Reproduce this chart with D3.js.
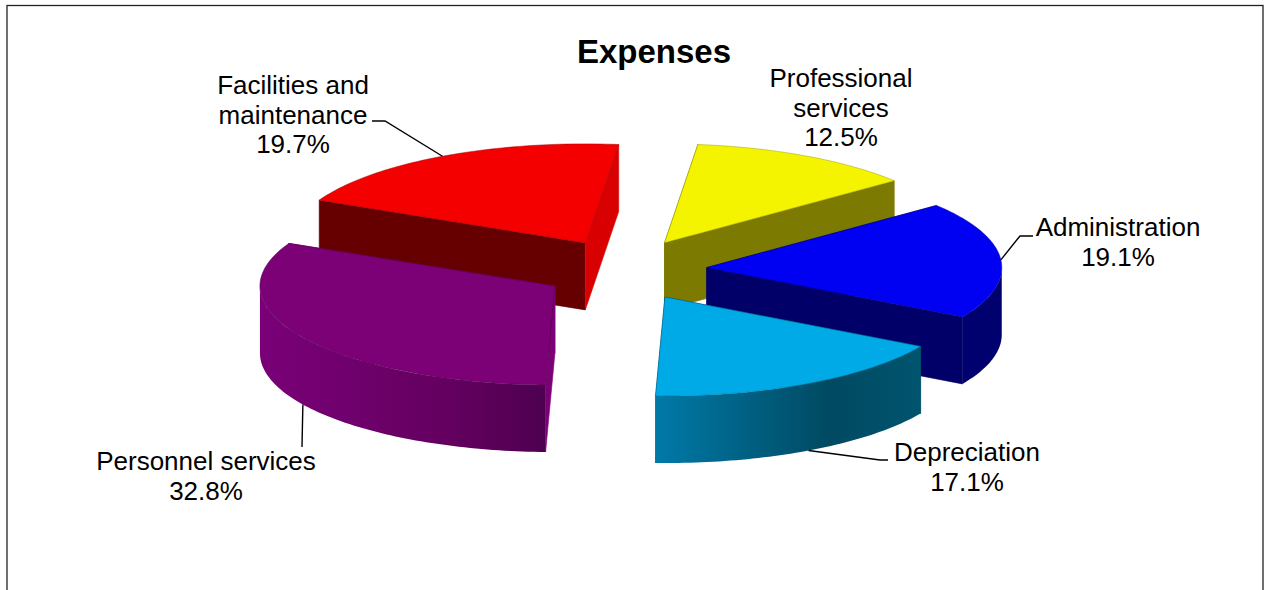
<!DOCTYPE html>
<html>
<head>
<meta charset="utf-8">
<style>
  html, body { margin: 0; background: #fff; overflow: hidden; }
  text { font-family: "Liberation Sans", Arial, sans-serif; fill: #000; }
</style>
</head>
<body>
<div class="chart"></div>
<script src="https://cdn.jsdelivr.net/npm/d3@7"></script>
<script>
// data, clockwise from the first slice
const categories = ["Professional services", "Administration", "Depreciation", "Personnel services", "Facilities and maintenance"];
const labelLines = [["Professional", "services"], ["Administration"], ["Depreciation"], ["Personnel services"], ["Facilities and", "maintenance"]];
const percents = [12.5, 19.1, 17.1, 32.8, 19.7];
const sliceShares = [12.4, 19.1, 17.2, 31.6, 19.7];

// slice colours
const topColors = ["#f4f400", "#0000f2", "#00aae6", "#7c0076", "#f40000"];
const cutColors = ["#7c7a00", "#000068", "#004d66", "#7c0076", "#660000"];
const litColors = ["#f4f400", "#0000f2", "#00aae6", "#7c0076", "#d80000"];
const wallStart = ["#7c7a00", "#00006e", "#007aa8", "#7a0078", "#660000"];
const wallMid = ["#7c7a00", "#00006e", "#004a62", "#640060", "#660000"];
const wallEnd = ["#7c7a00", "#00006e", "#00546e", "#4e0050", "#660000"];

// label placement: centre x, first baseline, leader elbow points
const labelX = [841, 1118, 967, 206, 293];
const labelY = [87, 236, 461, 470, 94];
const leaders = [
   null,
   [[1020, 236], [1033, 236]],
   [[880, 460], [888, 460]],
   [[302, 447]],
   [[385, 121], [372, 121]],
];

const width = 1265;
const height = 590;
const cx = 625;
const cy = 270;
const rx = 295;
const ry = 99;
const depth = 67;
const explodeX = 82;
const explodeY = 31;
const startAngle = (6.5 * Math.PI) / 180;

const svg = d3
   .select(".chart")
   .append("svg")
   .attr("width", width)
   .attr("height", height)
   .style("display", "block");

const defs = svg.append("defs");

svg.append("rect")
   .attr("x", 7)
   .attr("y", 5.5)
   .attr("width", 1256)
   .attr("height", 700)
   .attr("fill", "#fff")
   .attr("stroke", "#222")
   .attr("stroke-width", 1.3);

svg.append("text")
   .attr("x", 654)
   .attr("y", 63)
   .attr("text-anchor", "middle")
   .style("font-size", "33px")
   .style("font-weight", "bold")
   .text("Expenses");

const pie = d3
   .pie()
   .sort(null)
   .startAngle(startAngle)
   .endAngle(startAngle + 2 * Math.PI);

const slices = pie(sliceShares).map((d, i) => {
   const mid = (d.startAngle + d.endAngle) / 2;
   return {
      i,
      start: d.startAngle,
      end: d.endAngle,
      mid,
      ax: cx + explodeX * Math.sin(mid),
      ay: cy - explodeY * Math.cos(mid),
   };
});

const rim = (s, a, drop = 0) => [s.ax + rx * Math.sin(a), s.ay - ry * Math.cos(a) + drop];
const rimPoints = (a0, a1, s, drop = 0) => {
   const n = Math.ceil((a1 - a0) / 0.02);
   return d3.range(n + 1).map((k) => rim(s, a0 + ((a1 - a0) * k) / n, drop));
};
const line = d3.line();

// outer wall only shows on the front half of the ellipse
const wallRange = (s) => {
   const a0 = Math.max(s.start, Math.PI / 2);
   const a1 = Math.min(s.end, (3 * Math.PI) / 2);
   return a1 > a0 ? [a0, a1] : null;
};

const drawFace = (g, s, a, color) => {
   const p = rim(s, a);
   const pts = [[s.ax, s.ay], p, [p[0], p[1] + depth], [s.ax, s.ay + depth]];
   g.append("path")
      .attr("d", line(pts) + "Z")
      .attr("fill", color)
      .attr("stroke", color)
      .attr("stroke-width", 0.6);
};

// back slices first so the nearer ones overlap them
const drawOrder = [4, 0, 1, 2, 3];

drawOrder.forEach((idx) => {
   const s = slices[idx];
   const g = svg.append("g").attr("class", "slice");

   // a face looking to the right catches the light, one looking forward is dark
   const faceColor = (a, sign) =>
      Math.abs(Math.sin(a)) < 0.3 && Math.cos(a) * sign > 0 ? litColors[idx] : cutColors[idx];
   drawFace(g, s, s.start, faceColor(s.start, -1));
   drawFace(g, s, s.end, faceColor(s.end, 1));

   const wr = wallRange(s);
   if (wr) {
      const upper = rimPoints(wr[0], wr[1], s);
      const lower = rimPoints(wr[0], wr[1], s, depth).reverse();
      const xs = upper.map((p) => p[0]);
      const gradId = "wall" + idx;
      const grad = defs
         .append("linearGradient")
         .attr("id", gradId)
         .attr("gradientUnits", "userSpaceOnUse")
         .attr("x1", d3.min(xs))
         .attr("x2", d3.max(xs))
         .attr("y1", 0)
         .attr("y2", 0);
      grad.append("stop").attr("offset", 0).attr("stop-color", wallStart[idx]);
      grad.append("stop").attr("offset", 0.65).attr("stop-color", wallMid[idx]);
      grad.append("stop").attr("offset", 1).attr("stop-color", wallEnd[idx]);
      g.append("path")
         .attr("d", line(upper.concat(lower)) + "Z")
         .attr("fill", `url(#${gradId})`);
   }

   const topPts = [[s.ax, s.ay]].concat(rimPoints(s.start, s.end, s));
   g.append("path")
      .attr("d", line(topPts) + "Z")
      .attr("fill", topColors[idx])
      .attr("stroke", d3.color(topColors[idx]).darker(1.2))
      .attr("stroke-width", 0.7)
      .attr("stroke-opacity", 0.7)
      .attr("stroke-linejoin", "round");
});

// leader lines start on the rim at the middle of the slice
slices.forEach((s) => {
   const elbow = leaders[s.i];
   if (!elbow) return;
   const front = Math.cos(s.mid) < 0;
   const from = rim(s, s.mid, front ? depth : 0);
   svg.append("path")
      .attr("d", line([from].concat(elbow)))
      .attr("fill", "none")
      .attr("stroke", "#000")
      .attr("stroke-width", 1.4);
});

// data labels
slices.forEach((s) => {
   const t = svg
      .append("text")
      .attr("text-anchor", "middle")
      .style("font-size", "26px")
      .attr("y", labelY[s.i]);
   labelLines[s.i].concat(d3.format(".1f")(percents[s.i]) + "%").forEach((txt, k) => {
      t.append("tspan")
         .attr("x", labelX[s.i])
         .attr("dy", k === 0 ? 0 : 29.5)
         .text(txt);
   });
});
</script>
</body>
</html>
